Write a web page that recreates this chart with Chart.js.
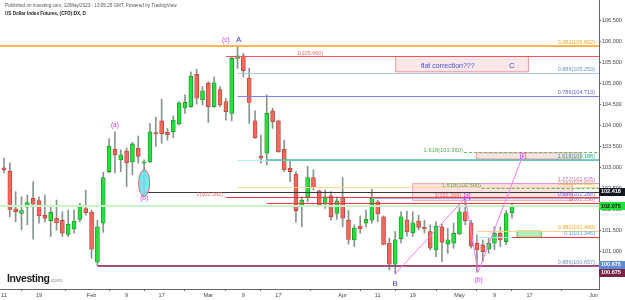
<!DOCTYPE html>
<html lang="en">
<head>
<meta charset="UTF-8">
<title>US Dollar Index Futures, (CFD):DX, D</title>
<script src="https://cdn.jsdelivr.net/npm/chart.js"></script>
<style>
  html, body { margin: 0; padding: 0; background: #fff; }
  #wrap { position: relative; width: 625px; height: 300px; font-family: "Liberation Sans", Arial, sans-serif; }
  #pub { position: absolute; left: 5px; top: 3px; font-size: 4.6px; color: #555; white-space: nowrap; }
  #sym { position: absolute; left: 5px; top: 11px; font-size: 4.6px; font-weight: bold; color: #222; white-space: nowrap; }
  #logo { position: absolute; left: 7px; top: 272px; font-size: 10.5px; font-weight: bold; color: #1b1b1b; letter-spacing: -0.4px; }
  #logo span { font-size: 6px; font-weight: normal; color: #888; letter-spacing: 0; }
</style>
</head>
<body>
<div id="wrap">
  <canvas id="chart" width="625" height="300"></canvas>
  <div id="pub">Published on Investing.com, 12/May/2023 - 13:05:25 GMT, Powered by TradingView.</div>
  <div id="sym">US Dollar Index Futures, (CFD):DX, D</div>
  <div id="logo">Investing<span>.com</span></div>
</div>
<script>
  // daily candles, index 0 = 11 Jan 2023 ... 87 = 12 May 2023 (weekdays only)
  const opens = [102.99, 102.91, 102.01, 101.90, 102.05, 102.26, 102.21, 101.86, 101.73, 101.79,
    101.74, 101.40, 101.53, 101.76, 102.02, 101.93, 100.74, 101.67, 102.90, 103.43,
    103.18, 103.39, 103.13, 103.46, 103.10, 103.13, 103.83, 104.11, 103.84, 103.85,
    104.04, 104.42, 104.45, 105.22, 104.61, 105.01, 104.45, 104.86, 104.57, 104.29,
    105.60, 105.66, 105.13, 104.11, 103.27, 103.34, 104.35, 104.11, 103.43, 102.98,
    102.84, 102.09, 102.29, 102.76, 102.44, 102.14, 102.32, 101.90, 102.28, 101.74,
    101.27, 101.60, 101.67, 101.74, 102.18, 101.82, 101.19, 100.69, 101.30, 101.75,
    101.44, 101.72, 101.57, 101.47, 101.03, 101.58, 101.17, 101.19, 101.41, 101.94,
    101.67, 101.19, 101.15, 101.05, 101.19, 101.43, 101.23, 101.92];
  const highs = [103.22, 103.11, 102.42, 102.30, 102.34, 102.66, 102.30, 102.34, 102.10, 102.22,
    101.94, 101.98, 101.98, 102.14, 102.46, 101.98, 101.74, 102.88, 103.69, 103.85,
    103.42, 103.46, 103.60, 103.75, 103.18, 104.05, 104.20, 104.63, 103.93, 104.23,
    104.57, 104.73, 105.28, 105.34, 104.93, 105.05, 105.16, 104.93, 104.65, 105.64,
    105.88, 105.72, 105.37, 104.35, 103.77, 104.73, 104.41, 104.13, 103.65, 103.15,
    102.90, 102.30, 103.03, 102.94, 102.46, 102.46, 102.42, 102.30, 102.76, 101.97,
    101.63, 101.84, 101.98, 102.48, 102.22, 101.84, 101.31, 101.47, 101.94, 101.96,
    101.94, 101.86, 101.74, 101.63, 101.70, 101.65, 101.55, 101.67, 102.13, 102.27,
    101.74, 101.39, 101.27, 101.31, 101.58, 101.58, 101.97, 102.13];
  const lows = [102.87, 101.82, 101.70, 101.51, 101.63, 101.29, 101.67, 101.70, 101.35, 101.50,
    101.35, 101.35, 101.43, 101.70, 101.86, 100.83, 100.66, 101.45, 102.87, 102.87,
    102.90, 102.54, 102.82, 103.10, 102.35, 103.11, 103.50, 103.58, 103.65, 103.71,
    104.01, 104.29, 104.43, 104.51, 104.49, 104.07, 104.43, 104.45, 104.13, 104.11,
    105.36, 105.16, 104.05, 103.69, 103.10, 103.06, 103.93, 103.36, 102.90, 102.66,
    101.69, 101.58, 102.18, 102.46, 102.06, 102.02, 101.74, 101.76, 101.58, 101.17,
    101.11, 101.43, 101.58, 101.67, 101.70, 101.15, 100.55, 100.46, 101.20, 101.36,
    101.35, 101.51, 101.43, 101.03, 100.87, 100.75, 100.95, 101.07, 101.39, 101.63,
    101.07, 100.50, 100.75, 100.95, 101.03, 101.11, 101.15, 101.79];
  const closes = [102.94, 102.00, 101.94, 101.97, 102.16, 102.12, 101.84, 101.78, 101.93, 101.68,
    101.43, 101.65, 101.72, 102.10, 101.92, 101.05, 101.58, 102.76, 103.51, 103.30,
    103.30, 103.11, 103.56, 103.26, 103.13, 103.85, 103.80, 103.80, 103.78, 104.13,
    104.54, 104.55, 105.18, 104.65, 104.83, 104.45, 105.02, 104.49, 104.33, 105.60,
    105.66, 105.31, 104.55, 103.71, 103.22, 104.29, 104.09, 103.37, 102.94, 102.90,
    101.97, 102.22, 102.76, 102.52, 102.10, 102.30, 101.82, 102.20, 101.79, 101.28,
    101.56, 101.53, 101.76, 102.26, 101.89, 101.16, 100.69, 101.27, 101.82, 101.46,
    101.68, 101.57, 101.53, 101.07, 101.60, 101.21, 101.27, 101.43, 101.94, 101.73,
    101.12, 101.03, 100.99, 101.19, 101.43, 101.27, 101.90, 102.075];

  // date axis
  const xTickIdx = [0, 6, 15, 21, 27, 35, 41, 47, 58, 64, 70, 78, 84, 90, 101];
  const xTickText = ['11', '19', 'Feb', '9', '17', 'Mar', '9', '17', 'Apr', '11', '19', 'May', '9', '17', 'Jun'];
  const yTickVals = [101, 101.5, 102, 102.5, 103, 103.5, 104, 104.5, 105, 105.5, 106, 106.5];

  // horizontal levels: price, from / to (day index), tag at the right edge
  const levelPrice = [105.892, 105.660, 105.253, 104.713, 103.360, 103.188, 103.188, 102.625, 102.500, 102.530,
    102.418, 102.282, 102.268, 102.156, 102.075, 101.490, 101.345, 101.330, 100.670, 100.657];
  const levelFrom = [-1, 38, 40, 40, 78.8, 40, 45, 79, 81.8, 40, 24, 38, 63, 45, -1, 81, 83, 81, 16, 16];
  const levelTo = [102, 102, 102, 102, 102, 102, 102, 102, 102, 102, 102, 102, 102, 102, 102, 102, 102, 87, 102, 102];
  const levelTag = ['0.382(105.892)', '', '0.886(105.253)', '0.786(104.713)', '', '', '1.618(103.188)', '1.272(102.625)', '', '0.382(102.532)',
    '', '', '0.886(102.268)', '1(102.156)', '', '0.382(101.490)', '0.1(101.345)', '', '', '0.886(100.657)'];

  // zones
  const zoneFrom = [67.0, 80.8, 69.9, 87.8];
  const zoneTo = [89.9, 98.8, 97.4, 92.1];
  const zoneHigh = [105.660, 103.360, 102.625, 101.490];
  const zoneLow = [105.270, 103.190, 102.200, 101.320];

  // wave (B)-(a)-(b)-[c]
  const waveIdx = [67, 79, 81.2, 88.9];
  const wavePrice = [100.46, 102.27, 100.50, 103.30];

  // labels written on the chart
  const noteText = ['(c)', 'A', '(a)', '(b)', 'B', 'flat correction???', 'C', '[c]', '[a]', '(b)',
    '1(105.660)', '1.618(103.360)', '1.618(102.500)', '1(102.282)', '1(102.269)'];
  const noteIdx = [38.0, 40.2, 19.0, 24.0, 67.0, 76.0, 87.0, 88.9, 79.3, 81.3, 52.4, 78.6, 81.7, 37.5, 78.3];
  const notePrice = [106.04, 106.04, 104.00, 102.26, 100.22, 105.42, 105.42, 103.30, 102.31, 100.31,
    105.73, 103.41, 102.56, 102.36, 102.32];

  // price tags on the axis
  const tagPrice = [102.418, 102.075, 100.675, 100.675];

  // styles
  const levelColor = ['#ffb74d', '#f4545c', '#a9c4e4', '#8080f0', '#6cb85e', '#b5eef3', '#4dbba3', '#cf9ae6', '#6cb85e', '#ffd699',
    '#3a3a3a', '#f23645', '#a4aef0', '#f23645', '#c9f5c6', '#ffd08a', '#f23645', '#b2ebf2', '#a8bcd8', '#8e2457'];
  const levelWidth = [2, 1, 1, 1, 1, 1, 1.5, 1, 1, 1, 1, 1, 1, 1, 2, 1, 1, 1, 1, 1.5];
  const levelTagColor = ['#f5a623', '', '#6b8fc4', '#5c5ce8', '', '', '#2aa191', '#b86fd9', '', '#f5a623',
    '', '', '#6a62e0', '#f25a5a', '', '#f5a623', '#4aa8d8', '', '', '#6b8fc4'];
  const zoneFill = ['rgba(242,54,69,0.12)', 'rgba(242,54,69,0.15)', 'rgba(242,54,69,0.15)', 'rgba(80,220,90,0.45)'];
  const zoneLine = ['rgba(242,54,69,0.45)', 'rgba(242,54,69,0.35)', 'rgba(242,54,69,0.35)', 'rgba(60,190,70,0.8)'];
  const noteColor = ['#c23bd4', '#3b3bd8', '#c23bd4', '#c23bd4', '#3b3bd8', '#4150d8', '#4150d8', '#c23bd4', '#c23bd4', '#c23bd4',
    '#f06a6a', '#5aa64a', '#5aa64a', '#f06a6a', '#f06a6a'];
  const noteSize = [6.5, 8, 6.5, 6.5, 8, 7, 8, 6.5, 6.5, 6.5, 5.5, 5.8, 5.8, 5.5, 5.5];
  const noteAlign = ['center', 'center', 'center', 'center', 'center', 'center', 'center', 'center', 'center', 'center',
    'center', 'right', 'right', 'right', 'right'];
  const tagBg = ['#131722', '#22e03a', '#5b8bd0', '#7b2347'];
  const tagFg = ['#fff', '#111', '#fff', '#fff'];
  const tagShift = [0, 0, 0, 8];

  const FONT = '"Liberation Sans", Arial, sans-serif';
  const days = opens.map((_, i) => i);
  const up = days.map(i => closes[i] >= opens[i]);

  const drawings = {
    id: 'drawings',
    beforeDatasetsDraw(chart) {
      const {ctx, chartArea: a, scales: {x, y}} = chart;
      ctx.save();
      ctx.beginPath(); ctx.rect(a.left, a.top, a.width, a.height); ctx.clip();
      zoneFrom.forEach((f, k) => {
        const x0 = x.getPixelForValue(f), x1 = x.getPixelForValue(zoneTo[k]);
        const y0 = y.getPixelForValue(zoneHigh[k]), y1 = y.getPixelForValue(zoneLow[k]);
        ctx.fillStyle = zoneFill[k];
        ctx.fillRect(x0, y0, x1 - x0, y1 - y0);
        ctx.strokeStyle = zoneLine[k];
        ctx.lineWidth = 1;
        ctx.strokeRect(x0 + 0.5, y0 + 0.5, x1 - x0 - 1, y1 - y0 - 1);
      });
      ctx.restore();
    },
    afterDatasetsDraw(chart) {
      const {ctx, chartArea: a, scales: {x, y}} = chart;
      ctx.save();
      ctx.beginPath(); ctx.rect(a.left, a.top, a.width, a.height); ctx.clip();

      // levels
      levelPrice.forEach((p, k) => {
        const py = Math.round(y.getPixelForValue(p)) + (levelWidth[k] === 1 ? 0.5 : 0);
        ctx.strokeStyle = levelColor[k];
        ctx.lineWidth = levelWidth[k];
        ctx.setLineDash(levelColor[k] === '#6cb85e' ? [3, 2] : []);
        ctx.beginPath();
        ctx.moveTo(x.getPixelForValue(levelFrom[k]), py);
        ctx.lineTo(x.getPixelForValue(levelTo[k]), py);
        ctx.stroke();
      });
      ctx.setLineDash([]);

      // wave
      ctx.strokeStyle = '#f47af4';
      ctx.lineWidth = 1;
      ctx.beginPath();
      waveIdx.forEach((w, k) => {
        const px = x.getPixelForValue(w), py = y.getPixelForValue(wavePrice[k]);
        k ? ctx.lineTo(px, py) : ctx.moveTo(px, py);
      });
      ctx.stroke();

      // (b) ellipse on 10 Feb
      const ex0 = x.getPixelForValue(23.05), ex1 = x.getPixelForValue(24.95);
      const ey0 = y.getPixelForValue(102.94), ey1 = y.getPixelForValue(102.31);
      ctx.beginPath();
      ctx.ellipse((ex0 + ex1) / 2, (ey0 + ey1) / 2, (ex1 - ex0) / 2, (ey1 - ey0) / 2, 0, 0, Math.PI * 2);
      ctx.fillStyle = 'rgba(110,225,240,0.9)';
      ctx.fill();
      ctx.strokeStyle = '#e06a6a';
      ctx.stroke();

      // tags of the levels
      ctx.textAlign = 'right';
      ctx.textBaseline = 'bottom';
      ctx.font = '5.5px ' + FONT;
      levelTag.forEach((t, k) => {
        if (!t) return;
        ctx.fillStyle = levelTagColor[k];
        ctx.fillText(t, a.right - 4, y.getPixelForValue(levelPrice[k]) - 0.5);
      });

      // notes
      ctx.textBaseline = 'middle';
      noteText.forEach((t, k) => {
        ctx.font = noteSize[k] + 'px ' + FONT;
        ctx.textAlign = noteAlign[k];
        ctx.fillStyle = noteColor[k];
        ctx.fillText(t, x.getPixelForValue(noteIdx[k]), y.getPixelForValue(notePrice[k]));
      });
      ctx.restore();
    },
    afterDraw(chart) {
      const {ctx, chartArea: a, scales: {y}} = chart;
      ctx.save();
      ctx.font = 'bold 5.5px ' + FONT;
      ctx.textAlign = 'left';
      ctx.textBaseline = 'middle';
      tagPrice.forEach((p, k) => {
        const py = y.getPixelForValue(p) + tagShift[k];
        ctx.fillStyle = tagBg[k];
        ctx.fillRect(a.right, Math.round(py) - 4, 26, 8);
        ctx.fillStyle = tagFg[k];
        ctx.fillText(p.toFixed(3), a.right + 2, py);
      });
      ctx.restore();
    }
  };

  new Chart(document.getElementById('chart'), {
    type: 'bar',
    data: {
      datasets: [
        {
          label: 'body',
          data: days.map(i => ({x: i, y: [opens[i], closes[i]]})),
          backgroundColor: up.map(u => u ? '#26e03a' : '#f4675b'),
          borderColor: up.map(u => u ? '#1c8f2a' : '#b8413a'),
          borderWidth: 0.8,
          borderSkipped: false,
          barThickness: 4,
          minBarLength: 1.2,
          grouped: false,
          order: 1
        },
        {
          label: 'wick',
          data: days.map(i => ({x: i, y: [lows[i], highs[i]]})),
          backgroundColor: '#86958c',
          barThickness: 1,
          grouped: false,
          order: 2
        }
      ]
    },
    options: {
      responsive: false,
      animation: false,
      layout: { padding: 0 },
      plugins: { legend: { display: false }, tooltip: { enabled: false } },
      scales: {
        x: {
          type: 'linear',
          min: -0.68,
          max: 101.9,
          offset: false,
          grid: { drawOnChartArea: false, tickLength: 2, color: '#666' },
          border: { color: '#666' },
          afterBuildTicks: s => { s.ticks = xTickIdx.map(v => ({ value: v })); },
          afterFit: s => { s.height = 11; s.paddingLeft = 0; s.paddingRight = 0; },
          ticks: {
            autoSkip: false, maxRotation: 0, padding: 1, color: '#444',
            font: { family: FONT, size: 5.5 },
            callback: v => xTickText[xTickIdx.indexOf(v)]
          }
        },
        y: {
          position: 'right',
          min: 100.098,
          max: 106.995,
          grid: { drawOnChartArea: false, tickLength: 2, color: '#666' },
          border: { color: '#666' },
          afterBuildTicks: s => { s.ticks = yTickVals.map(v => ({ value: v })); },
          afterFit: s => { s.width = 26; s.paddingTop = 0; s.paddingBottom = 0; },
          ticks: {
            padding: 1, color: '#444',
            font: { family: FONT, size: 5.5 },
            callback: v => v.toFixed(3)
          }
        }
      }
    },
    plugins: [drawings]
  });
</script>
</body>
</html>
